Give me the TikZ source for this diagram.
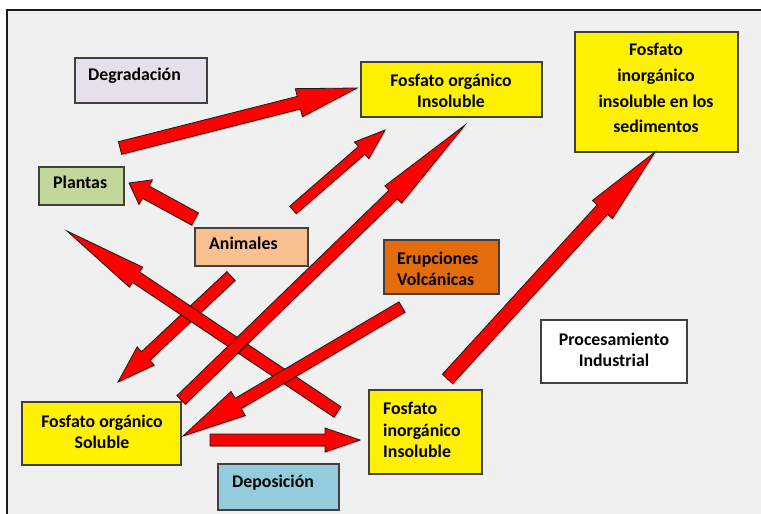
\documentclass[tikz,border=0pt]{standalone}
\usepackage{fontspec}
\setmainfont{Carlito}
\usetikzlibrary{calc,shadows}

\definecolor{panel}{HTML}{F0F0F0}
\definecolor{frameline}{HTML}{1A1A1A}
\definecolor{boxline}{HTML}{404040}
\definecolor{lavender}{HTML}{E6E0EC}
\definecolor{leaf}{HTML}{C3D69B}
\definecolor{peach}{HTML}{FAC090}
\definecolor{lava}{HTML}{E46C0A}
\definecolor{sky}{HTML}{93CDDD}
\definecolor{flow}{HTML}{FF0000}
\definecolor{flowline}{HTML}{1A1A1A}

% block arrow: tail, tip, half shaft width, half head width, head length
\newcommand\blockarrow[5]{%
  \coordinate (nk) at ($(#2)!#5!(#1)$);
  \draw[flowarrow]
    ($(#1)!#3!90:(#2)$) --
    ($(nk)!#3!-90:(#1)$) --
    ($(nk)!#4!-90:(#1)$) --
    (#2) --
    ($(nk)!#4!90:(#1)$) --
    ($(nk)!#3!90:(#1)$) --
    ($(#1)!#3!-90:(#2)$) -- cycle;
}

\tikzset{
  box/.style={draw=boxline, line width=1.1pt, anchor=north west,
    inner sep=0pt, outer sep=0pt,
    drop shadow={shadow xshift=1pt, shadow yshift=-1pt, opacity=0.2, fill=black}},
  lbl/.style={font=\fontsize{17.8}{21.5}\selectfont\bfseries, text=black,
    inner sep=0pt, anchor=base},
  lblw/.style={lbl, anchor=base west},
  flowarrow/.style={fill=flow, draw=flowline, line width=0.8pt, line join=miter,
    drop shadow={shadow xshift=1.2pt, shadow yshift=-1.2pt, opacity=0.2, fill=black}},
}

\begin{document}
\begin{tikzpicture}[x=1pt,y=-1pt]
  \useasboundingbox (0,0) rectangle (761,514);
  \fill[white] (0,0) rectangle (761,514);
  % panel
  \fill[panel] (7,10) rectangle (761,514);
  \draw[frameline, line width=1.2pt] (7,514) -- (7,10) -- (761,10);

  % boxes
  \node[box, fill=lavender, minimum width=132pt, minimum height=45pt] (deg) at (75,58) {};
  \node[box, fill=yellow, minimum width=181pt, minimum height=55pt] (foi) at (361,62) {};
  \node[box, fill=yellow, minimum width=163pt, minimum height=120pt] (sed) at (575,32) {};
  \node[box, fill=leaf, minimum width=85pt, minimum height=38pt] (pla) at (39,167) {};
  \node[box, fill=peach, minimum width=113pt, minimum height=38pt] (ani) at (195,228) {};
  \node[box, fill=lava, minimum width=115pt, minimum height=54pt] (eru) at (384,240) {};
  \node[box, fill=white, minimum width=146pt, minimum height=63pt] (pro) at (541,320) {};
  \node[box, fill=yellow, minimum width=159pt, minimum height=63pt] (fos) at (22,402) {};
  \node[box, fill=yellow, minimum width=113pt, minimum height=84pt] (fii) at (369,390) {};
  \node[box, fill=sky, minimum width=121pt, minimum height=46pt] (dep) at (218,464) {};

  % labels
  \node[lblw] (deg-t) at (88,80) {Degradación};
  \node[lbl] (foi-t1) at (451,86) {Fosfato orgánico};
  \node[lbl] (foi-t2) at (451,107) {Insoluble};
  \node[lbl] (sed-t1) at (656,55) {Fosfato};
  \node[lbl] (sed-t2) at (656,81) {inorgánico};
  \node[lbl] (sed-t3) at (656,107) {insoluble en los};
  \node[lbl] (sed-t4) at (656,132) {sedimentos};
  \node[lblw] (pla-t) at (53,188) {Plantas};
  \node[lblw] (ani-t) at (209,249) {Animales};
  \node[lblw] (eru-t1) at (397,264) {Erupciones};
  \node[lblw] (eru-t2) at (397,285) {Volcánicas};
  \node[lbl] (pro-t1) at (614,345) {Procesamiento};
  \node[lbl] (pro-t2) at (614,366) {Industrial};
  \node[lbl] (fos-t1) at (102,427) {Fosfato orgánico};
  \node[lbl] (fos-t2) at (102,448) {Soluble};
  \node[lblw] (fii-t1) at (383,414) {Fosfato};
  \node[lblw] (fii-t2) at (383,436) {inorgánico};
  \node[lblw] (fii-t3) at (383,457) {Insoluble};
  \node[lblw] (dep-t) at (232,487) {Deposición};

  % arrow end points
  \coordinate (a1s) at (120,148);   \coordinate (a1e) at (357,88);
  \coordinate (a2s) at (293,210);   \coordinate (a2e) at (385,130);
  \coordinate (a3s) at (195,219);   \coordinate (a3e) at (129,183);
  \coordinate (a4s) at (181,400);   \coordinate (a4e) at (465,125);
  \coordinate (a5s) at (447.5,379); \coordinate (a5e) at (655,152);
  \coordinate (a6s) at (231,276);   \coordinate (a6e) at (118,382);
  \coordinate (a7s) at (402,307);   \coordinate (a7e) at (183,436);
  \coordinate (a8s) at (337.5,412); \coordinate (a8e) at (67,231);
  \coordinate (a9s) at (210,440);   \coordinate (a9e) at (360,440);

  % flows
  \blockarrow{a1s}{a1e}{6.5pt}{14.5pt}{60pt}
  \blockarrow{a2s}{a2e}{5pt}{11pt}{31pt}
  \blockarrow{a3s}{a3e}{7pt}{14pt}{19pt}
  \blockarrow{a5s}{a5e}{7pt}{13.5pt}{78pt}
  \blockarrow{a9s}{a9e}{6pt}{12pt}{35pt}
  \blockarrow{a6s}{a6e}{6pt}{12.5pt}{38pt}
  \blockarrow{a8s}{a8e}{6.3pt}{12pt}{83pt}
  \blockarrow{a4s}{a4e}{6pt}{12pt}{100pt}
  \blockarrow{a7s}{a7e}{6pt}{14pt}{64pt}
\end{tikzpicture}
\end{document}
